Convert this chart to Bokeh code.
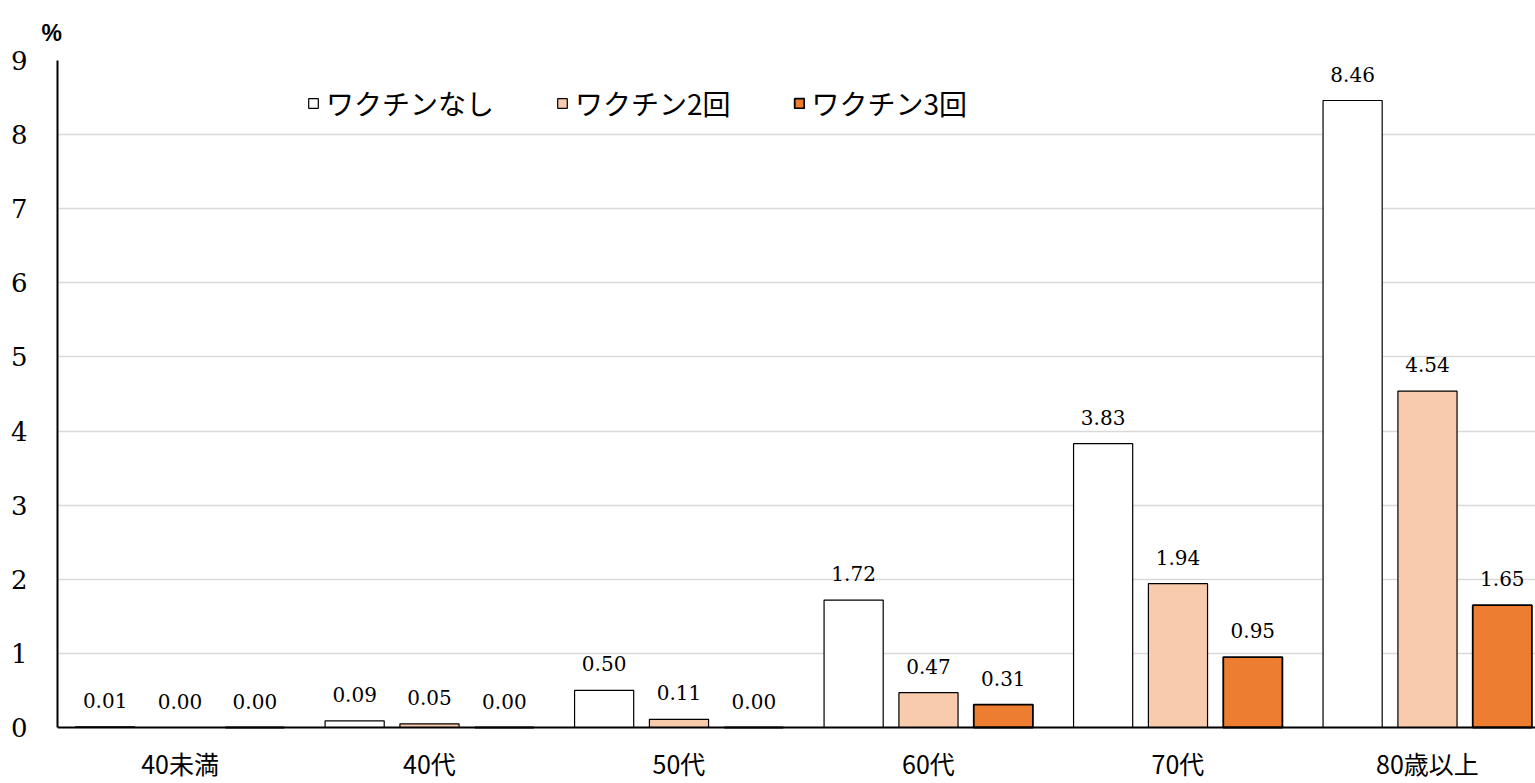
from bokeh.plotting import figure
from bokeh.models import (ColumnDataSource, Range1d, FixedTicker, Legend, LegendItem, Span)
from bokeh.embed import file_html
from bokeh.resources import INLINE
from bokeh.core.properties import value

categories = ["40未満", "40代", "50代", "60代", "70代", "80歳以上"]
series_names = ["ワクチンなし", "ワクチン2回", "ワクチン3回"]
no_vaccine = [0.01, 0.09, 0.50, 1.72, 3.83, 8.46]
two_doses = [0.00, 0.05, 0.11, 0.47, 1.94, 4.54]
three_doses = [0.00, 0.00, 0.00, 0.31, 0.95, 1.65]
y_ticks = [0, 1, 2, 3, 4, 5, 6, 7, 8, 9]

fills = ["#FFFFFF", "#F8CBAD", "#ED7D31"]
line_widths = [1.2, 1.2, 1.8]
offsets = [-0.3, 0.0, 0.3]
bar_width = 0.237

W, H = 1535, 783
TOP = 60
px_per_unit = (727 - TOP) / 9.0
y_start = -(H - 727) / px_per_unit

p = figure(width=W, height=H, output_backend="svg", toolbar_location=None,
           x_range=Range1d(-0.491, 5.433), y_range=Range1d(y_start, 9),
           min_border_left=57, min_border_right=0, min_border_top=TOP, min_border_bottom=0)
p.outline_line_color = None
p.background_fill_color = "white"
p.border_fill_color = "white"

p.title.text = "%"
p.title.align = "left"
p.title.offset = -16
p.title.standoff = 30
p.title.text_font = "Liberation Sans"
p.title.text_font_size = "23px"
p.title.text_font_style = "bold"
p.title.text_color = "black"

p.xaxis.visible = False

p.yaxis.ticker = FixedTicker(ticks=y_ticks)
p.yaxis.bounds = (0, 9)
p.yaxis.major_label_text_font = "DejaVu Serif"
p.yaxis.major_label_text_font_size = "26px"
p.yaxis.major_label_text_color = "black"
p.yaxis.major_label_standoff = 24
p.yaxis.major_tick_line_color = None
p.yaxis.minor_tick_line_color = None
p.yaxis.axis_line_color = "black"
p.yaxis.axis_line_width = 2

p.xgrid.grid_line_color = None
p.ygrid.grid_line_color = "#D9D9D9"
p.ygrid.grid_line_width = 1.5
p.ygrid.ticker = FixedTicker(ticks=y_ticks[1:])

series = [no_vaccine, two_doses, three_doses]
items = []
for k, vals in enumerate(series):
    xs = [i + offsets[k] for i in range(len(categories))]
    src = ColumnDataSource(dict(x=xs, top=vals, lab=["%.2f" % v for v in vals]))
    r = p.vbar(x="x", top="top", bottom=0, width=bar_width, source=src,
               fill_color=fills[k], line_color="black", line_width=line_widths[k])
    p.text(x="x", y="top", text="lab", source=src, text_align="center",
           text_baseline="bottom", y_offset=-19, text_font=value("DejaVu Serif"),
           text_font_size="20px", text_color="black")
    items.append(LegendItem(label=series_names[k], renderers=[r]))

# x axis baseline
p.add_layout(Span(location=0, dimension="width", line_color="black", line_width=2))

# category labels
cat_src = ColumnDataSource(dict(x=list(range(len(categories))), y=[0] * len(categories), t=categories))
p.text(x="x", y="y", text="t", source=cat_src, text_align="center", text_baseline="middle",
       y_offset=35, text_font=value("Noto Sans CJK JP"), text_font_size="25px", text_color="black")

legend = Legend(items=items, orientation="horizontal", location=(250, 660),
                glyph_width=12, glyph_height=12, label_standoff=7, spacing=62,
                padding=0, margin=0, border_line_color=None, background_fill_alpha=0,
                label_text_font="Noto Sans CJK JP", label_text_font_size="28px",
                label_text_color="black")
p.add_layout(legend)

open("out.html", "w").write(file_html(p, INLINE))
